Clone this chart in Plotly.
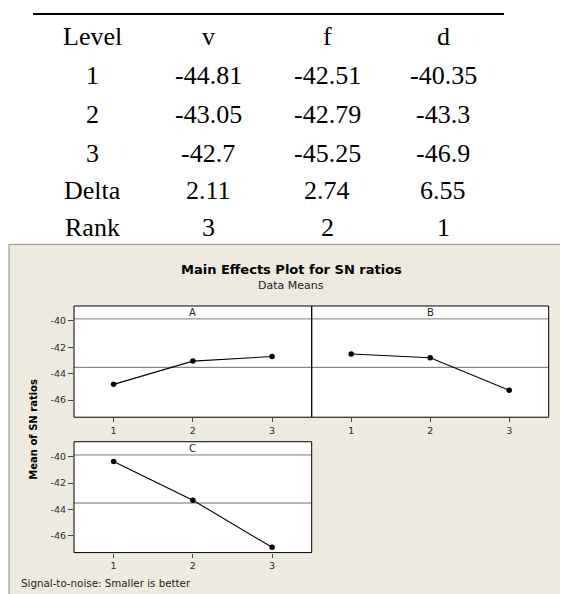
import plotly.graph_objects as go

# ---------------- data ----------------
levels = [1, 2, 3]
v_sn = [-44.81, -43.05, -42.7]
f_sn = [-42.51, -42.79, -45.25]
d_sn = [-40.35, -43.3, -46.9]
panel_labels = ["A", "B", "C"]

table_header = ["Level", "v", "f", "d"]
table_rows = [
    ["1", "-44.81", "-42.51", "-40.35"],
    ["2", "-43.05", "-42.79", "-43.3"],
    ["3", "-42.7", "-45.25", "-46.9"],
    ["Delta", "2.11", "2.74", "6.55"],
    ["Rank", "3", "2", "1"],
]
y_ticks = [-40, -42, -44, -46]
y_tick_text = ["-40", "-42", "-44", "-46"]

# page body has an 8px margin; work in window pixels and shift
OFF = 8
W, H = 560, 586
def fx(px):
    return (px - OFF) / W
def fy(py):
    return 1 - (py - OFF) / H

BEIGE = "#EEEAE0"
SANS = "DejaVu Sans"
SERIF = "Liberation Serif"

fig = go.Figure()

series = [v_sn, f_sn, d_sn]
axes = [("x", "y"), ("x2", "y2"), ("x3", "y3")]
grand_mean = sum(v_sn) / len(v_sn)
for vals, (xa, ya) in zip(series, axes):
    fig.add_trace(go.Scatter(x=[0.5, 3.5], y=[grand_mean, grand_mean], mode="lines",
                             line=dict(color="#6E6E6E", width=1),
                             xaxis=xa, yaxis=ya, hoverinfo="skip", showlegend=False))
    fig.add_trace(go.Scatter(x=levels, y=vals, mode="lines+markers",
                             line=dict(color="black", width=1.1),
                             marker=dict(color="black", size=5.5),
                             xaxis=xa, yaxis=ya, showlegend=False))

# panel geometry (window pixels)
panels = {
    "A": dict(x0=74, x1=311.7, top=304, strip=317, bot=416),
    "B": dict(x0=311.7, x1=548.7, top=304, strip=317, bot=416),
    "C": dict(x0=74, x1=311.7, top=440.7, strip=454, bot=552.3),
}
yr = [-47.3, -39.85]
tickfont = dict(family=SANS, size=9.5, color="#2A2A2A")

common_x = dict(range=[0.5, 3.5], tickvals=levels, ticks="outside", ticklen=4,
                tickcolor="#444444", showgrid=False, zeroline=False, showline=False,
                tickfont=tickfont, fixedrange=True)
common_y = dict(range=yr, tickvals=y_ticks, ticktext=y_tick_text, ticks="outside", ticklen=5,
                tickcolor="#444444", showgrid=False, zeroline=False, showline=False,
                tickfont=tickfont, fixedrange=True)

pA, pB, pC = panels["A"], panels["B"], panels["C"]
fig.update_layout(
    xaxis=dict(domain=[fx(pA["x0"]), fx(pA["x1"])], anchor="y", **common_x),
    yaxis=dict(domain=[fy(pA["bot"]), fy(pA["strip"])], anchor="x", **common_y),
    xaxis2=dict(domain=[fx(pB["x0"]), fx(pB["x1"])], anchor="y2", **common_x),
    yaxis2=dict(domain=[fy(pB["bot"]), fy(pB["strip"])], anchor="x2",
                **{**common_y, "ticks": "", "showticklabels": False}),
    xaxis3=dict(domain=[fx(pC["x0"]), fx(pC["x1"])], anchor="y3", **common_x),
    yaxis3=dict(domain=[fy(pC["bot"]), fy(pC["strip"])], anchor="x3", **common_y),
)

shapes = []
shapes.append(dict(type="rect", xref="paper", yref="paper", x0=fx(9), x1=fx(590),
                   y0=fy(620), y1=fy(242), fillcolor=BEIGE,
                   line=dict(color="#8C8C8C", width=1), layer="below"))
for name, p in panels.items():
    shapes.append(dict(type="rect", xref="paper", yref="paper", x0=fx(p["x0"]), x1=fx(p["x1"]),
                       y0=fy(p["bot"]), y1=fy(p["top"]), fillcolor="white",
                       line=dict(width=0), layer="below"))
for name, p in panels.items():
    shapes.append(dict(type="line", xref="paper", yref="paper", x0=fx(p["x0"]), x1=fx(p["x1"]),
                       y0=fy(p["strip"]), y1=fy(p["strip"]),
                       line=dict(color="#7A7A7A", width=1), layer="above"))
    shapes.append(dict(type="rect", xref="paper", yref="paper", x0=fx(p["x0"]), x1=fx(p["x1"]),
                       y0=fy(p["bot"]), y1=fy(p["top"]),
                       line=dict(color="black", width=1), layer="above"))
shapes.append(dict(type="line", xref="paper", yref="paper", x0=fx(33), x1=fx(504),
                   y0=fy(10), y1=fy(10), line=dict(color="black", width=2)))

annotations = []
col_x = [92, 208, 327, 443]
row_y = [32.5, 71.7, 111, 150.5, 188, 224.5]
for r, row in enumerate([table_header] + table_rows):
    for c, txt in enumerate(row):
        annotations.append(dict(text=txt, xref="paper", yref="paper", x=fx(col_x[c]), y=fy(row_y[r]),
                                xanchor="center", yanchor="middle", showarrow=False,
                                font=dict(family=SERIF, size=26, color="black")))

annotations.append(dict(text="<b>Main Effects Plot for SN ratios</b>", xref="paper", yref="paper",
                        x=fx(291), y=fy(267), xanchor="center", yanchor="middle", showarrow=False,
                        font=dict(family=SANS, size=13, color="black")))
annotations.append(dict(text="Data Means", xref="paper", yref="paper",
                        x=fx(291), y=fy(283), xanchor="center", yanchor="middle", showarrow=False,
                        font=dict(family=SANS, size=11, color="#222222")))
annotations.append(dict(text="Signal-to-noise: Smaller is better", xref="paper", yref="paper",
                        x=fx(19), y=fy(583), xanchor="left", yanchor="middle", showarrow=False,
                        font=dict(family=SANS, size=10.3, color="#222222")))
annotations.append(dict(text="<b>Mean of SN ratios</b>", xref="paper", yref="paper",
                        x=fx(34), y=fy(428.5), xanchor="center", yanchor="middle", showarrow=False,
                        textangle=-90, font=dict(family=SANS, size=10, color="black")))
for name in panel_labels:
    p = panels[name]
    annotations.append(dict(text=name, xref="paper", yref="paper",
                            x=fx((p["x0"] + p["x1"]) / 2), y=fy((p["top"] + p["strip"]) / 2),
                            xanchor="center", yanchor="middle", showarrow=False,
                            font=dict(family=SANS, size=10, color="#222222")))

fig.update_layout(width=W, height=H, margin=dict(l=0, r=0, t=0, b=0),
                  paper_bgcolor="white", plot_bgcolor="white",
                  shapes=shapes, annotations=annotations, showlegend=False)

fig.write_html("out.html")
